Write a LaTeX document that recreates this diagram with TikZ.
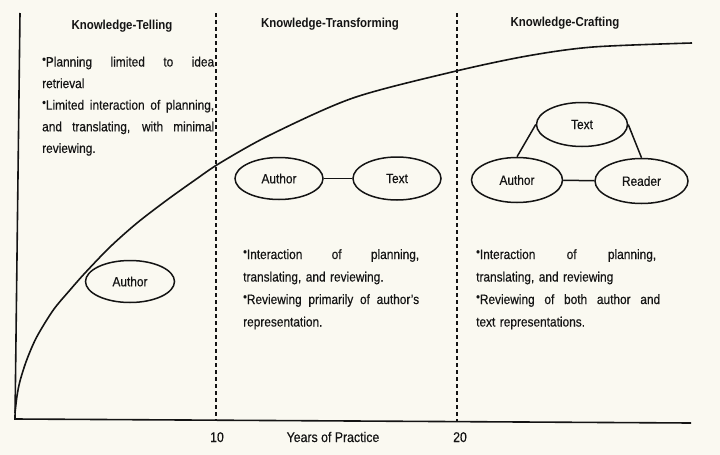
\documentclass[tikz,border=0pt]{standalone}
\usepackage{fontspec}
\setmainfont{Liberation Sans}
\newfontfamily\narrowsans[FakeStretch=0.88,FakeBold=0.4]{Liberation Sans}
\newfontfamily\narrowbold[FakeStretch=0.88]{Liberation Sans Bold}
\usetikzlibrary{shapes.geometric}

\definecolor{paper}{RGB}{250,249,241}
\definecolor{ink}{RGB}{20,20,20}

% small raised bullet that sits against the following word
\newcommand{\dotmark}{\raisebox{3.2pt}{\fontsize{12}{12}\selectfont •}}
% a line whose word spaces stretch to the full width of its column
\newcommand{\fullline}[2]{\leavevmode\hbox to #1{%
  \spaceskip=0.25em plus 1fil\xspaceskip=0.25em plus 1fil\relax #2}}

\begin{document}
\begin{tikzpicture}[x=1pt,y=-1pt,
  stagetitle/.style={anchor=base, inner sep=0, text=ink,
    font=\narrowbold\fontsize{13}{15}\selectfont},
  bubble/.style={ellipse, draw=ink, line width=1.5pt, inner sep=0,
    text=ink, font=\narrowsans\fontsize{13.5}{15}\selectfont},
  link/.style={draw=ink, line width=1.5pt},
  notes/.style={anchor=base west, inner sep=0, align=left, text=ink},
  phase/.style={draw=ink, line width=1.5pt, dash pattern=on 4pt off 3pt},
  axisline/.style={draw=ink, line width=1.6pt},
  ticklabel/.style={anchor=base, inner sep=0, text=ink,
    font=\narrowsans\fontsize{14}{16}\selectfont}]

% page
\path[fill=paper] (0,0) rectangle (720,455);

% axes
\coordinate (origin) at (15,419);
\coordinate (ytop) at (20,13);
\coordinate (xend) at (691,423);
\draw[axisline] (ytop) -- (origin) -- (xend);

% phase boundaries at 10 and 20 years
\coordinate (p10top) at (216,13);
\coordinate (p10bot) at (216,420);
\coordinate (p20top) at (457,13);
\coordinate (p20bot) at (457,421);
\draw[phase] (p10top) -- (p10bot);
\draw[phase] (p20top) -- (p20bot);

% growth curve
\draw[ink, line width=1.6pt] plot[smooth, tension=0.5] coordinates {
  (15,413) (17,396) (20,381) (26.7,360) (36.7,337) (53.3,310)
  (70,290) (85,273) (110,247) (137,223) (167,200) (195,180)
  (220,163) (270,135) (353,98) (452,72) (527,56) (593,47) (692,43)};

% axis labels
\node[ticklabel] (ten) at (217,442) {10};
\node[ticklabel] (twenty) at (460,442) {20};
\node[ticklabel] (years) at (333,442) {Years of Practice};

% stage titles
\node[stagetitle] (telling) at (122,29) {Knowledge-Telling};
\node[stagetitle] (transforming) at (330,27.5) {Knowledge-Transforming};
\node[stagetitle] (crafting) at (565,26) {Knowledge-Crafting};

% stage descriptions
\node[notes, text width=172pt, font=\narrowsans\fontsize{13.5}{21.6}\selectfont]
  (tellnotes) at (42,66.5) {%
  \fullline{172pt}{\dotmark Planning limited to idea}\\
  retrieval\\
  \fullline{172pt}{\dotmark Limited interaction of planning,}\\
  \fullline{172pt}{and translating, with minimal}\\
  reviewing.};

\node[notes, text width=176pt, font=\narrowsans\fontsize{13.5}{22.5}\selectfont]
  (transnotes) at (243,259) {%
  \fullline{176pt}{\dotmark Interaction of planning,}\\
  translating, and reviewing.\\
  \fullline{176pt}{\dotmark Reviewing primarily of author’s}\\
  representation.};

\node[notes, text width=184pt, font=\narrowsans\fontsize{13.5}{22.5}\selectfont]
  (craftnotes) at (476,259) {%
  \fullline{180pt}{\dotmark Interaction of planning,}\\
  translating, and reviewing\\
  \fullline{184pt}{\dotmark Reviewing of both author and}\\
  text representations.};

% knowledge-telling: the author alone
\node[bubble, minimum width=89pt, minimum height=42pt] (tellauthor) at (130,281.5) {Author};

% knowledge-transforming: author and text
\node[bubble, minimum width=88pt, minimum height=42pt] (transauthor) at (279,178.5) {Author};
\node[bubble, minimum width=88pt, minimum height=43pt] (transtext) at (397,178.5) {Text};
\draw[link] (transauthor) -- (transtext);

% knowledge-crafting: author, text and reader
\node[bubble, minimum width=91pt, minimum height=44pt] (crafttext) at (582,124.5) {Text};
\node[bubble, minimum width=91pt, minimum height=45pt] (craftauthor) at (517,180) {Author};
\node[bubble, minimum width=93pt, minimum height=45pt] (craftreader) at (641.5,181) {Reader};
\draw[link] (craftauthor) -- (craftreader);
\draw[link] (craftauthor.north) -- (crafttext.west);
\draw[link] (craftreader.north) -- (crafttext.east);

\end{tikzpicture}
\end{document}
